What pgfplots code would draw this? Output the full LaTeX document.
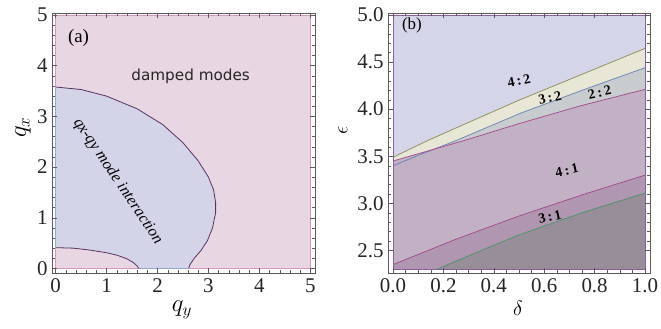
\documentclass[border=0pt]{standalone}
\usepackage{pgfplots}
\pgfplotsset{compat=1.18}
\usepackage{fontspec}
\setmainfont{Liberation Serif}
\newfontfamily\dejavu{DejaVu Sans}
\definecolor{pinkbg}{RGB}{232,214,226}
\definecolor{pinkedge}{RGB}{214,150,190}
\definecolor{bluebg}{RGB}{212,212,232}
\definecolor{curvea}{RGB}{90,50,100}
\definecolor{lav}{RGB}{213,213,234}
\definecolor{yel}{RGB}{232,230,212}
\definecolor{grn}{RGB}{200,204,206}
\definecolor{mauve}{RGB}{194,176,196}
\definecolor{mauved}{RGB}{176,150,176}
\definecolor{greyd}{RGB}{152,142,154}
\definecolor{olivel}{RGB}{138,138,84}
\definecolor{bluel}{RGB}{100,130,185}
\definecolor{magl}{RGB}{165,70,140}
\definecolor{grnl}{RGB}{70,150,100}
\definecolor{frame}{RGB}{90,90,90}
\begin{document}
\begin{tikzpicture}
\useasboundingbox (0,0) rectangle (661bp,329bp);
\pgfplotsset{
  panel/.style={
    scale only axis, anchor=south west,
    width=263bp, height=260bp,
    axis line style={frame, line width=0.6bp},
    tick align=inside,
    major tick length=5bp, minor tick length=3bp,
    every tick/.style={frame, line width=0.5bp},
    every minor tick/.style={frame, line width=0.4bp},
    ticklabel style={font=\fontsize{21}{24}\selectfont, text=black!85},
    xticklabel style={yshift=-2bp},
    yticklabel style={xshift=-1bp},
    axis on top,
  }
}
% ---------------- panel (a)
\begin{axis}[panel, at={(52bp,56bp)},
  xmin=-0.07, xmax=5.09, ymin=-0.09, ymax=5.04,
  xtick={0,1,2,3,4,5}, xticklabels={0,1,2,3,4,5},
  ytick={0,1,2,3,4,5}, yticklabels={0,1,2,3,4,5},
  minor x tick num=4, minor y tick num=4,
  xlabel={$q_y$}, ylabel={$q_x$},
  xlabel style={at={(axis description cs:0.494,-0.142)}, anchor=center, font=\fontsize{23}{26}\selectfont},
  ylabel style={at={(axis description cs:-0.11,0.56)}, anchor=center, rotate=0, font=\fontsize{23}{26}\selectfont},
]
\addplot[fill=pinkbg, draw=pinkedge, line width=0.8bp] coordinates {(0,0) (5,0) (5,5) (0,5)} -- cycle;
\addplot[fill=bluebg, draw=none] coordinates {
 (0,0.41) (0.35,0.40) (0.69,0.36) (1.0,0.31) (1.21,0.26) (1.40,0.19) (1.52,0.12) (1.60,0.05) (1.63,0)
 (2.61,0) (2.64,0.08) (2.72,0.2) (2.85,0.35) (2.98,0.55) (3.08,0.8) (3.14,1.1) (3.14,1.3) (3.10,1.55)
 (3.00,1.8) (2.80,2.12) (2.50,2.48) (2.10,2.84) (1.60,3.15) (1.00,3.40) (0.50,3.53) (0,3.58)} -- cycle;
\addplot[curvea, line width=0.8bp] coordinates {
 (0,0.41) (0.35,0.40) (0.69,0.36) (1.0,0.31) (1.21,0.26) (1.40,0.19) (1.52,0.12) (1.60,0.05) (1.63,0)};
\addplot[curvea, line width=0.8bp] coordinates {
 (2.61,0) (2.64,0.08) (2.72,0.2) (2.85,0.35) (2.98,0.55) (3.08,0.8) (3.14,1.1) (3.14,1.3) (3.10,1.55)
 (3.00,1.8) (2.80,2.12) (2.50,2.48) (2.10,2.84) (1.60,3.15) (1.00,3.40) (0.50,3.53) (0,3.58)};
\addplot[bluel!70, line width=0.8bp] coordinates {(0,0.41) (0,3.58)};
\addplot[bluel!70, line width=0.8bp] coordinates {(1.63,0) (2.61,0)};
\node[font=\fontsize{19}{22}\selectfont] at (axis cs:0.45,4.54) {(a)};
\node[font=\dejavu\fontsize{15.3}{18}\selectfont, text=black!85] at (axis cs:2.65,3.80) {damped modes};
\node[font=\fontsize{16}{18}\selectfont\itshape, rotate=-56] at (axis cs:1.22,1.72) {qx-qy mode interaction};
\end{axis}
% ---------------- panel (b)
\begin{axis}[panel, at={(388bp,56bp)}, width=262bp,
  xmin=-0.02, xmax=1.02, ymin=2.261, ymax=5.021,
  xtick={0,0.2,0.4,0.6,0.8,1.0}, xticklabels={0.0,0.2,0.4,0.6,0.8,1.0},
  ytick={2.5,3,3.5,4,4.5,5}, yticklabels={2.5,3.0,3.5,4.0,4.5,5.0},
  minor x tick num=3, minor y tick num=4,
  xlabel={$\delta$}, ylabel={$\epsilon$},
  xlabel style={at={(axis description cs:0.496,-0.135)}, anchor=center, font=\fontsize{20}{22}\selectfont},
  ylabel style={at={(axis description cs:-0.172,0.55)}, anchor=center, rotate=0, font=\fontsize{20}{22}\selectfont},
]
\addplot[fill=lav, draw=none] coordinates {(0,2.3) (1,2.3) (1,5) (0,5)} -- cycle;
\addplot[fill=yel, draw=none] coordinates {(0,2.3) (0,3.49) (0.14,3.67) (0.3,3.86) (0.504,4.10) (0.75,4.37) (1,4.645) (1,2.3)} -- cycle;
\addplot[fill=grn, draw=none] coordinates {(0,2.3) (0,3.40) (0.1,3.51) (0.253,3.67) (0.504,3.955) (0.75,4.20) (1,4.44) (1,2.3)} -- cycle;
\addplot[fill=mauve, draw=none] coordinates {(0,2.3) (0,3.45) (0.286,3.67) (0.504,3.85) (0.75,4.04) (1,4.21) (1,2.3)} -- cycle;
\addplot[fill=mauved, draw=none] coordinates {(0,2.3) (0,2.35) (0.25,2.62) (0.504,2.87) (0.75,3.09) (1,3.30) (1,2.3)} -- cycle;
\addplot[fill=greyd, draw=none] coordinates {(0.173,2.30) (0.35,2.50) (0.504,2.67) (0.75,2.90) (1,3.11) (1,2.3)} -- cycle;
\addplot[olivel, line width=0.7bp] coordinates {(0,3.49) (0.14,3.67) (0.3,3.86) (0.504,4.10) (0.75,4.37) (1,4.645)};
\addplot[bluel, line width=0.7bp] coordinates {(0,3.40) (0.1,3.51) (0.253,3.67) (0.504,3.955) (0.75,4.20) (1,4.44)};
\addplot[magl, line width=0.7bp] coordinates {(0,3.45) (0.286,3.67) (0.504,3.85) (0.75,4.04) (1,4.21)};
\addplot[magl, line width=0.7bp] coordinates {(0,2.35) (0.25,2.62) (0.504,2.87) (0.75,3.09) (1,3.30)};
\addplot[grnl, line width=0.7bp] coordinates {(0.173,2.30) (0.35,2.50) (0.504,2.67) (0.75,2.90) (1,3.11)};
\addplot[magl!60!bluel, line width=0.8bp] coordinates {(0,2.3) (1,2.3) (1,5) (0,5) (0,2.3)};
\node[font=\fontsize{17}{20}\selectfont] at (axis cs:0.075,4.89) {(b)};
\node[font=\fontsize{14}{16}\selectfont\bfseries, rotate=12] at (axis cs:0.50,4.30) {4\thinspace:\thinspace2};
\node[font=\fontsize{14}{16}\selectfont\bfseries, rotate=12] at (axis cs:0.623,4.12) {3\thinspace:\thinspace2};
\node[font=\fontsize{14}{16}\selectfont\bfseries, rotate=12] at (axis cs:0.82,4.18) {2\thinspace:\thinspace2};
\node[font=\fontsize{14}{16}\selectfont\bfseries, rotate=12] at (axis cs:0.69,3.35) {4\thinspace:\thinspace1};
\node[font=\fontsize{14}{16}\selectfont\bfseries, rotate=12] at (axis cs:0.623,2.86) {3\thinspace:\thinspace1};
\end{axis}
\end{tikzpicture}
\end{document}
